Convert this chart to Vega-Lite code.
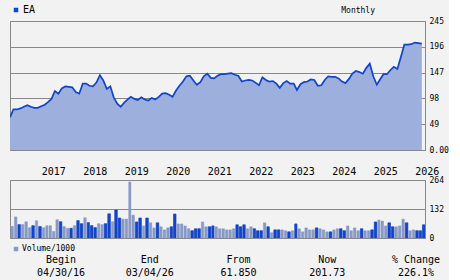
{
  "$schema": "https://vega.github.io/schema/vega-lite/v6.json",
  "background": "#f2f2f2",
  "padding": {"left": 9, "top": 4, "right": 0, "bottom": 0},
  "config": {
    "view": {"stroke": "#888888", "strokeWidth": 1},
    "font": "DejaVu Sans Mono",
    "axis": {"labelFont": "DejaVu Sans Mono", "labelColor": "#000000"},
    "legend": {"labelFont": "DejaVu Sans Mono", "labelColor": "#000000"}
  },
  "datasets": {
    "monthly": [
      {"month": "2016-04-01", "close": 62, "volume": 53, "up": false},
      {"month": "2016-05-01", "close": 77, "volume": 96, "up": false},
      {"month": "2016-06-01", "close": 77, "volume": 61, "up": true},
      {"month": "2016-07-01", "close": 79, "volume": 61, "up": false},
      {"month": "2016-08-01", "close": 82, "volume": 74, "up": false},
      {"month": "2016-09-01", "close": 85, "volume": 47, "up": false},
      {"month": "2016-10-01", "close": 82, "volume": 56, "up": true},
      {"month": "2016-11-01", "close": 80, "volume": 79, "up": false},
      {"month": "2016-12-01", "close": 80, "volume": 52, "up": true},
      {"month": "2017-01-01", "close": 83, "volume": 47, "up": false},
      {"month": "2017-02-01", "close": 86, "volume": 56, "up": false},
      {"month": "2017-03-01", "close": 91, "volume": 56, "up": false},
      {"month": "2017-04-01", "close": 97, "volume": 30, "up": false},
      {"month": "2017-05-01", "close": 112, "volume": 83, "up": false},
      {"month": "2017-06-01", "close": 107, "volume": 74, "up": true},
      {"month": "2017-07-01", "close": 117, "volume": 52, "up": false},
      {"month": "2017-08-01", "close": 121, "volume": 44, "up": false},
      {"month": "2017-09-01", "close": 120, "volume": 44, "up": true},
      {"month": "2017-10-01", "close": 119, "volume": 56, "up": false},
      {"month": "2017-11-01", "close": 110, "volume": 79, "up": true},
      {"month": "2017-12-01", "close": 107, "volume": 65, "up": true},
      {"month": "2018-01-01", "close": 126, "volume": 92, "up": false},
      {"month": "2018-02-01", "close": 126, "volume": 70, "up": true},
      {"month": "2018-03-01", "close": 122, "volume": 56, "up": true},
      {"month": "2018-04-01", "close": 121, "volume": 47, "up": true},
      {"month": "2018-05-01", "close": 128, "volume": 65, "up": false},
      {"month": "2018-06-01", "close": 142, "volume": 61, "up": false},
      {"month": "2018-07-01", "close": 132, "volume": 65, "up": true},
      {"month": "2018-08-01", "close": 116, "volume": 110, "up": true},
      {"month": "2018-09-01", "close": 121, "volume": 74, "up": false},
      {"month": "2018-10-01", "close": 100, "volume": 128, "up": true},
      {"month": "2018-11-01", "close": 88, "volume": 91, "up": true},
      {"month": "2018-12-01", "close": 82, "volume": 86, "up": false},
      {"month": "2019-01-01", "close": 90, "volume": 86, "up": false},
      {"month": "2019-02-01", "close": 96, "volume": 255, "up": false},
      {"month": "2019-03-01", "close": 101, "volume": 104, "up": false},
      {"month": "2019-04-01", "close": 97, "volume": 73, "up": true},
      {"month": "2019-05-01", "close": 95, "volume": 91, "up": true},
      {"month": "2019-06-01", "close": 100, "volume": 55, "up": false},
      {"month": "2019-07-01", "close": 96, "volume": 91, "up": true},
      {"month": "2019-08-01", "close": 94, "volume": 69, "up": false},
      {"month": "2019-09-01", "close": 99, "volume": 46, "up": false},
      {"month": "2019-10-01", "close": 96, "volume": 69, "up": true},
      {"month": "2019-11-01", "close": 101, "volume": 51, "up": false},
      {"month": "2019-12-01", "close": 107, "volume": 37, "up": false},
      {"month": "2020-01-01", "close": 108, "volume": 46, "up": false},
      {"month": "2020-02-01", "close": 105, "volume": 51, "up": true},
      {"month": "2020-03-01", "close": 101, "volume": 109, "up": true},
      {"month": "2020-04-01", "close": 113, "volume": 64, "up": false},
      {"month": "2020-05-01", "close": 122, "volume": 64, "up": false},
      {"month": "2020-06-01", "close": 130, "volume": 55, "up": false},
      {"month": "2020-07-01", "close": 140, "volume": 42, "up": false},
      {"month": "2020-08-01", "close": 141, "volume": 33, "up": true},
      {"month": "2020-09-01", "close": 132, "volume": 42, "up": true},
      {"month": "2020-10-01", "close": 124, "volume": 42, "up": true},
      {"month": "2020-11-01", "close": 129, "volume": 73, "up": false},
      {"month": "2020-12-01", "close": 140, "volume": 51, "up": false},
      {"month": "2021-01-01", "close": 145, "volume": 51, "up": true},
      {"month": "2021-02-01", "close": 137, "volume": 55, "up": true},
      {"month": "2021-03-01", "close": 136, "volume": 51, "up": false},
      {"month": "2021-04-01", "close": 141, "volume": 42, "up": false},
      {"month": "2021-05-01", "close": 144, "volume": 42, "up": false},
      {"month": "2021-06-01", "close": 144, "volume": 37, "up": false},
      {"month": "2021-07-01", "close": 145, "volume": 37, "up": false},
      {"month": "2021-08-01", "close": 146, "volume": 42, "up": false},
      {"month": "2021-09-01", "close": 143, "volume": 60, "up": true},
      {"month": "2021-10-01", "close": 141, "volume": 51, "up": true},
      {"month": "2021-11-01", "close": 130, "volume": 60, "up": true},
      {"month": "2021-12-01", "close": 132, "volume": 42, "up": false},
      {"month": "2022-01-01", "close": 133, "volume": 51, "up": false},
      {"month": "2022-02-01", "close": 132, "volume": 42, "up": true},
      {"month": "2022-03-01", "close": 128, "volume": 33, "up": true},
      {"month": "2022-04-01", "close": 123, "volume": 33, "up": true},
      {"month": "2022-05-01", "close": 138, "volume": 69, "up": false},
      {"month": "2022-06-01", "close": 133, "volume": 51, "up": true},
      {"month": "2022-07-01", "close": 130, "volume": 24, "up": false},
      {"month": "2022-08-01", "close": 131, "volume": 37, "up": true},
      {"month": "2022-09-01", "close": 126, "volume": 37, "up": true},
      {"month": "2022-10-01", "close": 118, "volume": 37, "up": false},
      {"month": "2022-11-01", "close": 127, "volume": 33, "up": false},
      {"month": "2022-12-01", "close": 131, "volume": 28, "up": true},
      {"month": "2023-01-01", "close": 126, "volume": 33, "up": false},
      {"month": "2023-02-01", "close": 126, "volume": 64, "up": true},
      {"month": "2023-03-01", "close": 114, "volume": 42, "up": false},
      {"month": "2023-04-01", "close": 125, "volume": 28, "up": false},
      {"month": "2023-05-01", "close": 129, "volume": 46, "up": false},
      {"month": "2023-06-01", "close": 130, "volume": 37, "up": false},
      {"month": "2023-07-01", "close": 134, "volume": 37, "up": false},
      {"month": "2023-08-01", "close": 133, "volume": 46, "up": true},
      {"month": "2023-09-01", "close": 122, "volume": 42, "up": false},
      {"month": "2023-10-01", "close": 123, "volume": 37, "up": false},
      {"month": "2023-11-01", "close": 133, "volume": 28, "up": false},
      {"month": "2023-12-01", "close": 140, "volume": 28, "up": true},
      {"month": "2024-01-01", "close": 139, "volume": 37, "up": false},
      {"month": "2024-02-01", "close": 139, "volume": 42, "up": false},
      {"month": "2024-03-01", "close": 136, "volume": 42, "up": true},
      {"month": "2024-04-01", "close": 130, "volume": 33, "up": true},
      {"month": "2024-05-01", "close": 127, "volume": 55, "up": false},
      {"month": "2024-06-01", "close": 135, "volume": 33, "up": false},
      {"month": "2024-07-01", "close": 145, "volume": 46, "up": false},
      {"month": "2024-08-01", "close": 150, "volume": 33, "up": false},
      {"month": "2024-09-01", "close": 148, "volume": 42, "up": true},
      {"month": "2024-10-01", "close": 145, "volume": 33, "up": false},
      {"month": "2024-11-01", "close": 156, "volume": 33, "up": false},
      {"month": "2024-12-01", "close": 164, "volume": 37, "up": true},
      {"month": "2025-01-01", "close": 140, "volume": 73, "up": true},
      {"month": "2025-02-01", "close": 124, "volume": 82, "up": false},
      {"month": "2025-03-01", "close": 134, "volume": 77, "up": false},
      {"month": "2025-04-01", "close": 144, "volume": 55, "up": false},
      {"month": "2025-05-01", "close": 144, "volume": 69, "up": true},
      {"month": "2025-06-01", "close": 152, "volume": 51, "up": true},
      {"month": "2025-07-01", "close": 158, "volume": 51, "up": false},
      {"month": "2025-08-01", "close": 154, "volume": 55, "up": false},
      {"month": "2025-09-01", "close": 177, "volume": 86, "up": false},
      {"month": "2025-10-01", "close": 200, "volume": 69, "up": true},
      {"month": "2025-11-01", "close": 200, "volume": 33, "up": false},
      {"month": "2025-12-01", "close": 201, "volume": 37, "up": false},
      {"month": "2026-01-01", "close": 204, "volume": 33, "up": true},
      {"month": "2026-02-01", "close": 203, "volume": 33, "up": true},
      {"month": "2026-03-01", "close": 202, "volume": 60, "up": true},
      {"month": "2026-03-04", "close": 201.73}
    ],
    "summary": [
      {"column": "Begin", "row": "header", "label": "Begin"},
      {"column": "End", "row": "header", "label": "End"},
      {"column": "From", "row": "header", "label": "From"},
      {"column": "Now", "row": "header", "label": "Now"},
      {"column": "% Change", "row": "header", "label": "% Change"},
      {"column": "Begin", "row": "value", "label": "04/30/16"},
      {"column": "End", "row": "value", "label": "03/04/26"},
      {"column": "From", "row": "value", "label": "61.850"},
      {"column": "Now", "row": "value", "label": "201.73"},
      {"column": "% Change", "row": "value", "label": "226.1%"}
    ]
  },
  "resolve": {"scale": {"color": "independent"}, "legend": {"color": "independent"}},
  "bounds": "flush",
  "spacing": 8,
  "vconcat": [
    {
      "width": 415,
      "height": 129,
      "title": {"text": "Monthly", "anchor": "end", "frame": "group", "dx": -50, "offset": -10, "font": "DejaVu Sans Mono", "fontSize": 8, "fontWeight": "normal", "color": "#000000"},
      "data": {"name": "monthly"},
      "encoding": {
        "x": {
          "field": "month", "type": "temporal",
          "scale": {"type": "utc", "domain": [{"year": 2016, "month": 4, "date": 1, "utc": true}, {"year": 2026, "month": 4, "date": 1, "utc": true}]},
          "axis": {"orient": "bottom", "tickCount": "year", "labelExpr": "utcFormat(datum.value, '%Y')", "labelAlign": "left", "labelBaseline": "top", "labelPadding": 16, "labelFontSize": 10, "labelFlush": false, "labelOverlap": false, "ticks": false, "grid": false, "domain": true, "domainColor": "#888888", "title": null, "zindex": 1}
        },
        "y": {
          "field": "close", "type": "quantitative",
          "scale": {"domain": [0, 245], "nice": false},
          "axis": {"orient": "right", "values": [0, 49, 98, 147, 196, 245], "format": "d", "labelExpr": "datum.value == 0 ? '0.00' : datum.label", "grid": true, "gridColor": "#888888", "gridOpacity": 1, "domain": false, "ticks": false, "labelPadding": 4, "labelFontSize": 8, "labelFlush": false, "labelBaseline": "middle", "title": null}
        }
      },
      "layer": [
        {"mark": {"type": "area", "fill": "#9cafdd", "clip": true}},
        {
          "mark": {"type": "line", "strokeWidth": 1.7, "clip": true},
          "encoding": {
            "color": {
              "datum": "EA",
              "scale": {"range": ["#1144cc"]},
              "legend": {"orient": "none", "legendX": 1, "legendY": -16, "title": null, "symbolType": "square", "symbolSize": 20, "symbolFillColor": "#1144cc", "symbolStrokeWidth": 0, "labelFontSize": 10, "labelOffset": 2, "padding": 0,
                "encode": {"symbols": {"update": {"fill": {"value": "#1144cc"}, "fillOpacity": {"value": 1}}}}}
            }
          }
        }
      ]
    },
    {
      "width": 415,
      "height": 14,
      "view": {"stroke": null},
      "data": {"values": []},
      "mark": {"type": "point"},
      "encoding": {}
    },
    {
      "width": 415,
      "height": 58,
      "data": {"name": "monthly"},
      "transform": [{"filter": "isValid(datum.volume)"}],
      "encoding": {
        "x": {
          "field": "month", "timeUnit": "utcyearmonth", "type": "temporal",
          "scale": {"type": "utc", "domain": [{"year": 2016, "month": 4, "date": 1, "utc": true}, {"year": 2026, "month": 4, "date": 1, "utc": true}]},
          "axis": {"orient": "bottom", "labels": false, "ticks": false, "grid": false, "domain": true, "domainColor": "#888888", "title": null, "zindex": 1}
        },
        "y": {
          "field": "volume", "type": "quantitative",
          "scale": {"domain": [0, 264], "nice": false},
          "axis": {"orient": "right", "values": [0, 132, 264], "grid": true, "gridColor": "#888888", "gridOpacity": 1, "domain": false, "ticks": false, "labelPadding": 4, "labelFontSize": 8, "labelFlush": false, "labelBaseline": "middle", "title": null}
        }
      },
      "layer": [
        {
          "mark": {"type": "bar", "clip": true, "stroke": "#8899c6", "strokeWidth": 0.5},
          "encoding": {
            "color": {
              "datum": "Volume/1000",
              "scale": {"range": ["#8899c6"]},
              "legend": {"orient": "none", "legendX": 2, "legendY": 65, "title": null, "symbolType": "square", "symbolSize": 20, "symbolStrokeWidth": 0, "labelFontSize": 8, "labelOffset": 2, "padding": 0}
            }
          }
        },
        {
          "transform": [{"filter": "datum.up"}],
          "mark": {"type": "bar", "clip": true, "color": "#1144cc", "stroke": "#1144cc", "strokeWidth": 0.5}
        }
      ]
    },
    {
      "width": 415,
      "height": 34,
      "view": {"stroke": null},
      "data": {"name": "summary"},
      "mark": {"type": "text", "font": "DejaVu Sans Mono", "fontSize": 10, "color": "#000000", "baseline": "middle", "align": "center"},
      "encoding": {
        "x": {"field": "column", "type": "nominal", "scale": {"type": "point", "domain": ["Begin", "End", "From", "Now", "% Change"], "padding": 0.338, "align": 0.85}, "axis": null},
        "y": {"field": "row", "type": "nominal", "scale": {"type": "point", "domain": ["header", "value"], "padding": 0.808, "align": 0.69}, "axis": null},
        "text": {"field": "label"}
      }
    }
  ]
}
